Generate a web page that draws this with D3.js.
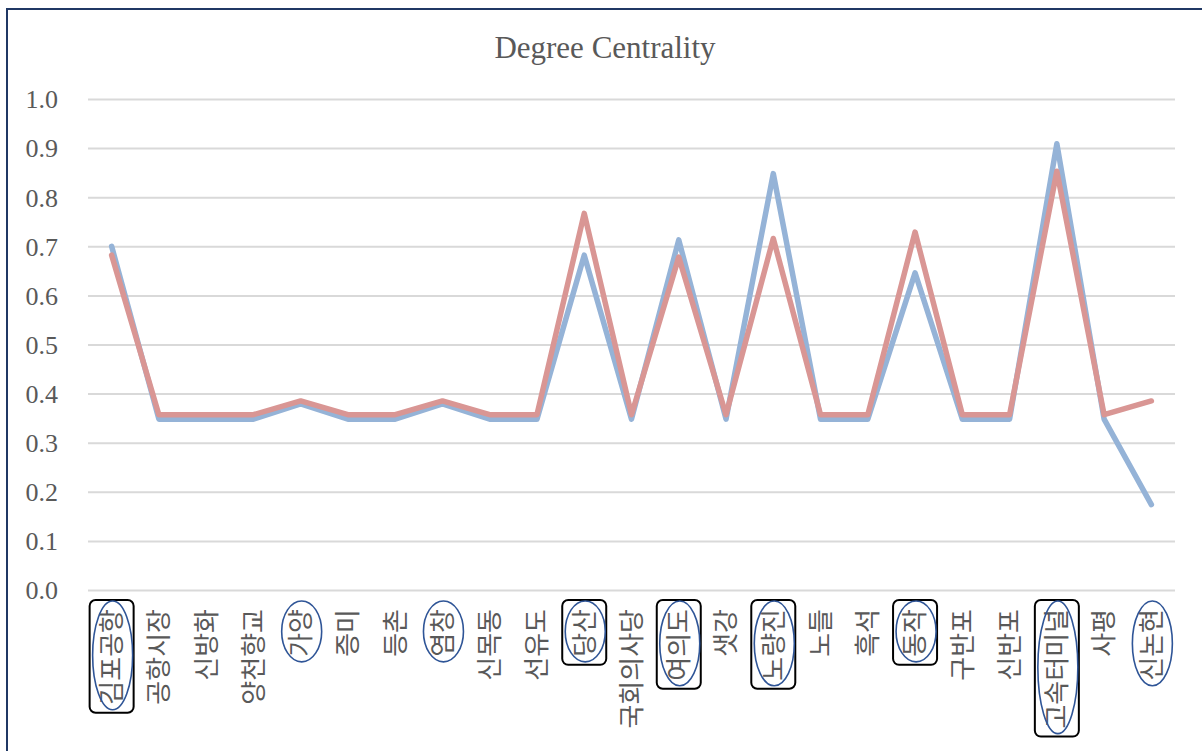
<!DOCTYPE html>
<html>
<head>
<meta charset="utf-8">
<script src="https://cdn.jsdelivr.net/npm/d3@7"></script>
<style>
  html, body { margin: 0; padding: 0; background: #fff; overflow: hidden; }
  svg { display: block; }
</style>
</head>
<body>
<svg id="chart" width="1202" height="751"></svg>
<script>
const title = "Degree Centrality";
const categories = ["김포공항","공항시장","신방화","양천향교","가양","증미","등촌","염창","신목동","선유도","당산","국회의사당","여의도","샛강","노량진","노들","흑석","동작","구반포","신반포","고속터미널","사평","신논현"];
const seriesBlue = [0.700,0.348,0.348,0.348,0.379,0.348,0.348,0.379,0.348,0.348,0.682,0.348,0.713,0.348,0.848,0.348,0.348,0.646,0.348,0.348,0.909,0.348,0.174];
const seriesRed  = [0.682,0.357,0.357,0.357,0.385,0.357,0.357,0.385,0.357,0.357,0.767,0.357,0.678,0.357,0.716,0.357,0.357,0.729,0.357,0.357,0.853,0.357,0.385];
const yTicks = [0,0.1,0.2,0.3,0.4,0.5,0.6,0.7,0.8,0.9,1.0];
const boxedLabels = ["김포공항","당산","여의도","노량진","동작","고속터미널"];
const circledLabels = ["김포공항","가양","염창","당산","여의도","노량진","동작","고속터미널","신논현"];

(function() {
const svg = d3.select("#chart");
const mLeft = 88, mRight = 1175, mTop = 99, mBottom = 590;

// frame
svg.append("rect").attr("x", 7).attr("y", 9).attr("width", 1400).attr("height", 1000)
  .attr("fill", "none").attr("stroke", "#203864").attr("stroke-width", 2);

const x = d3.scaleBand().domain(categories).range([mLeft, mRight]).padding(0);
const y = d3.scaleLinear().domain([0, 1]).range([mBottom, mTop]);
const cx = d => x(d) + x.bandwidth() / 2;

// title
svg.append("text").attr("x", 605).attr("y", 58).attr("text-anchor", "middle")
  .attr("font-family", "'Liberation Serif','Times New Roman',serif").attr("font-size", 31)
  .attr("fill", "#595959").text(title);

// gridlines + y labels
const yAxis = d3.axisLeft(y).tickValues(yTicks).tickFormat(d3.format(".1f"))
  .tickSize(-(mRight - mLeft)).tickPadding(30);
const gy = svg.append("g").attr("transform", `translate(${mLeft},0)`).call(yAxis);
gy.select(".domain").remove();
gy.selectAll(".tick line").attr("stroke", "#D9D9D9").attr("stroke-width", 2);
gy.selectAll(".tick text").attr("font-family", "'Liberation Serif','Times New Roman',serif")
  .attr("font-size", 26).attr("fill", "#595959").attr("dy", "0.34em");

// x labels
const labelOffset = 19;
const xAxis = d3.axisBottom(x).tickSize(0).tickPadding(0);
const gx = svg.append("g").attr("transform", `translate(0,${mBottom})`).call(xAxis);
gx.select(".domain").remove();
gx.selectAll(".tick text")
  .attr("font-family", "'Noto Sans CJK KR','Noto Sans',sans-serif")
  .attr("font-size", 26).attr("fill", "#595959")
  .attr("text-anchor", "end")
  .attr("transform", `translate(0,${labelOffset}) rotate(-90)`)
  .attr("x", 0).attr("y", 0).attr("dy", "0.36em");

// annotations
const ann = svg.append("g");
gx.selectAll(".tick").each(function(d) {
  const t = d3.select(this).select("text").node();
  const len = t.getComputedTextLength();
  const textEnd = mBottom + labelOffset + len;
  const xc = cx(d);
  if (boxedLabels.includes(d)) {
    ann.append("rect").attr("x", xc - 22).attr("y", mBottom + 10).attr("width", 44)
      .attr("height", textEnd + 8 - (mBottom + 10)).attr("rx", 6)
      .attr("fill", "none").attr("stroke", "#000").attr("stroke-width", 2);
  }
  if (circledLabels.includes(d)) {
    const t0 = mBottom + 11, t1 = textEnd + 5;
    ann.append("ellipse").attr("cx", xc + 1).attr("cy", (t0 + t1) / 2)
      .attr("rx", 20).attr("ry", (t1 - t0) / 2)
      .attr("fill", "none").attr("stroke", "#2F5597").attr("stroke-width", 1.6);
  }
});

// lines
const line = d3.line().x((v, i) => cx(categories[i])).y(v => y(v));
svg.append("path").datum(seriesBlue).attr("d", line).attr("fill", "none")
  .attr("stroke", "#95B3D7").attr("stroke-width", 5.5)
  .attr("stroke-linejoin", "round").attr("stroke-linecap", "round");
svg.append("path").datum(seriesRed).attr("d", line).attr("fill", "none")
  .attr("stroke", "#D99694").attr("stroke-width", 5.5)
  .attr("stroke-linejoin", "round").attr("stroke-linecap", "round");
})();
</script>
</body>
</html>
